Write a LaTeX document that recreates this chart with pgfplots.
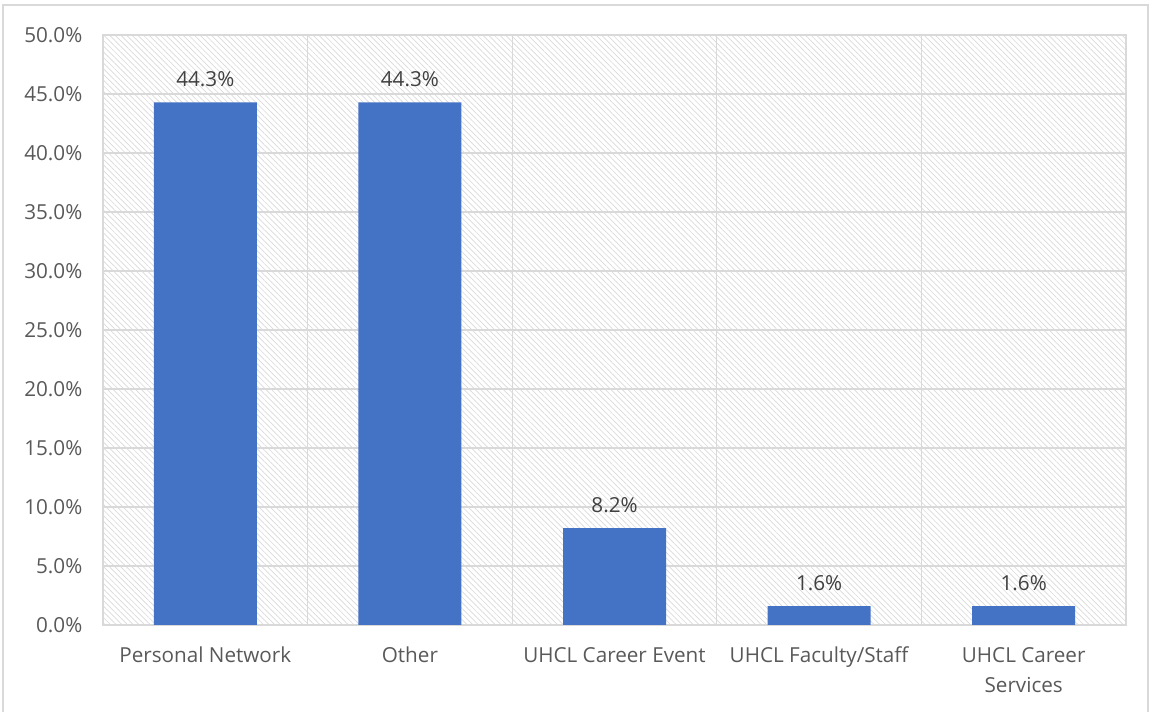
\documentclass[border=0pt]{standalone}
\usepackage{pgfplots}
\pgfplotsset{compat=1.18}
\usetikzlibrary{patterns.meta}
\usepackage{fontspec}
\setmainfont{Open Sans}
\definecolor{barblue}{HTML}{4472C4}
\definecolor{gridgray}{HTML}{D9D9D9}
\definecolor{txtgray}{HTML}{595959}
\definecolor{lblgray}{HTML}{404040}

\begin{document}
\begin{tikzpicture}
% whole chart area, 1px = 0.75pt
\useasboundingbox (-77.25pt,-65.25pt) rectangle (786pt,468.75pt);
\draw[gridgray, line width=1pt] (-75pt,-66pt) rectangle (783.75pt,465pt);
\begin{axis}[
	at={(0pt,0pt)}, anchor=south west,
	width=767.25pt, height=442.5pt, scale only axis,
	xmin=-0.5, xmax=4.5, ymin=0, ymax=50,
	axis background/.style={pattern={Lines[angle=-45,distance=3pt,line width=0.5pt]}, pattern color=gridgray},
	axis line style={gridgray, line width=1pt},
	ytick={0,5,...,50},
	ymajorgrids,
	grid style={gridgray, line width=1pt},
	xtick={0,...,4},
	xticklabels={Personal Network, Other, UHCL Career Event, UHCL Faculty/Staff, {UHCL Career\\Services}},
	minor xtick={0.5,1.5,2.5,3.5},
	xminorgrids,
	minor grid style={gridgray, line width=1pt},
	major tick length=0pt, minor tick length=0pt,
	tick style={draw=none},
	ticklabel style={font=\fontsize{15.5}{22.5}\selectfont, text=txtgray},
	xticklabel style={align=center, yshift=-13pt},
	yticklabel style={xshift=-12pt},
	yticklabel={\pgfmathprintnumber[fixed,fixed zerofill,precision=1]{\tick}\%},
	/pgf/number format/assume math mode=true,
	ybar, bar width=77.25pt,
	nodes near coords={\pgfmathprintnumber[fixed,fixed zerofill,precision=1]{\pgfplotspointmeta}\%},
	nodes near coords style={font=\fontsize{15.5}{18}\selectfont, text=lblgray, yshift=8pt},
]
\addplot[fill=barblue, draw=none] coordinates {(0,44.3)(1,44.3)(2,8.2)(3,1.6)(4,1.6)};
\end{axis}
\end{tikzpicture}
\end{document}
